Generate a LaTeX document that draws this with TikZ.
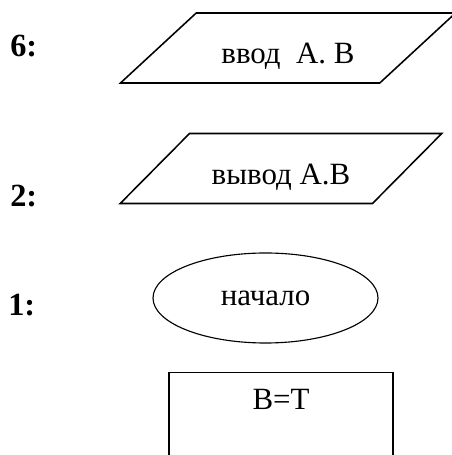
\documentclass[tikz,border=0pt]{standalone}
\usepackage{fontspec}
\setmainfont{Liberation Serif}
\usetikzlibrary{positioning,shapes.geometric}
\tikzset{%
	inout/.style    = {draw, trapezium, trapezium left angle=40, trapezium right angle=140, trapezium stretches=true, minimum height=1.75cm, text height=0.9cm, text depth=0.1cm, line width=1.1pt},
	startstop/.style= {draw, ellipse, minimum width=5.625cm, minimum height=2.25cm, line width=0.8pt},
	process/.style  = {draw, rectangle, minimum width=5.6cm, inner ysep=0pt, text height=0.925cm, text depth=1.8cm, line width=0.8pt},
	numlabel/.style = {anchor=base west, inner xsep=0pt, font=\fontsize{23}{27}\selectfont\bfseries},
}

\begin{document}
\begin{tikzpicture}[font=\fontsize{22}{26}\selectfont]
		\useasboundingbox (0,0) rectangle (11.3,11.375);
		\node[inout, minimum width=8.4cm] (input) at (7.2,10.175) {ввод\ \ А. В};
		\node[inout, minimum width=8.05cm, trapezium left angle=41.4, trapezium right angle=138.6] (output) at (7.025,7.1625) {вывод А.В};
		\node[startstop] (start) at (6.6375,3.925) {начало};
		\node[process, anchor=north] (assign) at (7.025,2.075) {B=T};
		
		\node[numlabel] (n6) at (0.25,9.95) {6:};
		\node[numlabel] (n2) at (0.25,6.2) {2:};
		\node[numlabel] (n1) at (0.2,3.475) {1:};
		\end{tikzpicture}
\end{document}
